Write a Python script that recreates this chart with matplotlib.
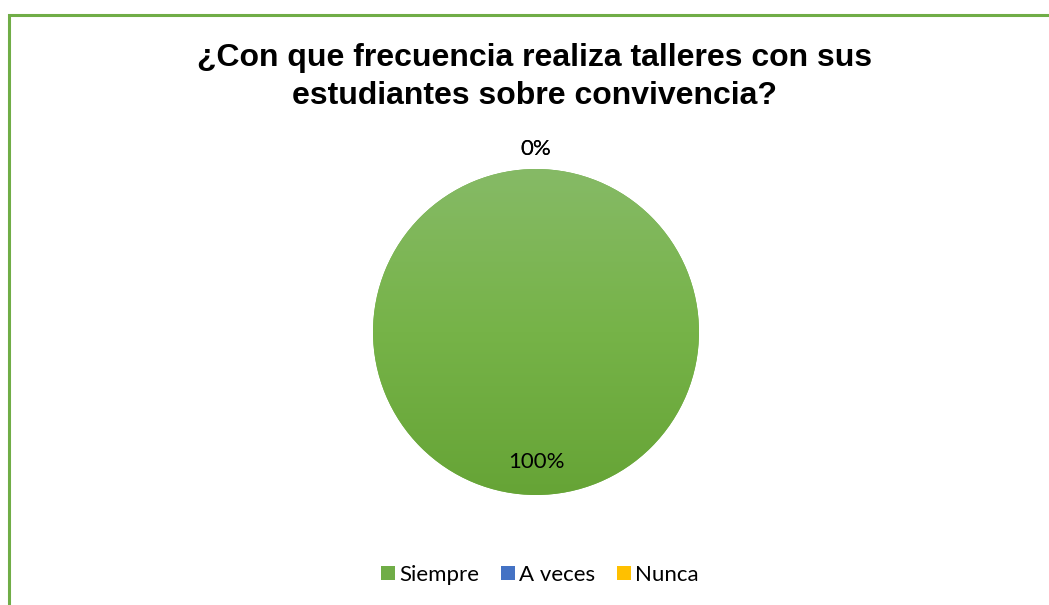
import matplotlib
matplotlib.use("Agg")
import matplotlib.pyplot as plt
import numpy as np
from matplotlib.patches import Rectangle
from matplotlib.colors import LinearSegmentedColormap

title = "¿Con que frecuencia realiza talleres con sus\nestudiantes sobre convivencia?"
categories = ["Siempre", "A veces", "Nunca"]
values = [100, 0, 0]
colors = ["#70AD47", "#4472C4", "#FFC000"]

W, H = 1049, 605
fig = plt.figure(figsize=(W / 100, H / 100), dpi=100)
fig.patch.set_facecolor("white")

# border
fig.add_artist(Rectangle((9 / W, -0.1), 1.2, (H - 15) / H + 0.1, transform=fig.transFigure,
                         fill=False, edgecolor="#70AD47", linewidth=2.2))

fig.text(535 / W, 1 - 77 / H, title, ha="center", va="center", fontsize=23,
         fontweight="bold", family="Liberation Sans", linespacing=1.32, color="#000000")

ax = fig.add_axes([373 / W, 110 / H, 326 / W, 326 / H])
wedges, _ = ax.pie(values, colors=colors, startangle=90, counterclock=False, radius=1.0)
ax.set_xlim(-1, 1)
ax.set_ylim(-1, 1)
ax.axis("off")

# gradient fill for the main slice
cmap = LinearSegmentedColormap.from_list("g", ["#66A436", "#76B348", "#86BA66"])
grad = np.linspace(0, 1, 256).reshape(-1, 1)
for w, c in zip(wedges, colors):
    if w.theta2 - w.theta1 > 1:
        im = ax.imshow(grad, extent=(-1, 1, -1, 1), origin="lower", cmap=cmap,
                       aspect="auto", zorder=w.get_zorder() + 0.1)
        im.set_clip_path(w)

# data labels
total = sum(values)
for w, v in zip(wedges, values):
    ang = np.deg2rad((w.theta1 + w.theta2) / 2)
    pct = f"{v / total * 100:.0f}%"
    r = 0.80 if v > 0 else 1.12
    ax.text(r * np.cos(ang), r * np.sin(ang), pct, ha="center", va="center",
            fontsize=16, family="Lato", color="#000000", clip_on=False, zorder=10)

handles = [Rectangle((0, 0), 1, 1, facecolor=c) for c in colors]
leg = fig.legend(handles, categories, loc="center", bbox_to_anchor=(540 / W, 1 - 575 / H),
                 ncol=3, frameon=False, prop={"family": "Lato", "size": 16},
                 handlelength=0.6, handleheight=0.6, handletextpad=0.2, columnspacing=1.0)

fig.savefig("out.png", dpi=100)
